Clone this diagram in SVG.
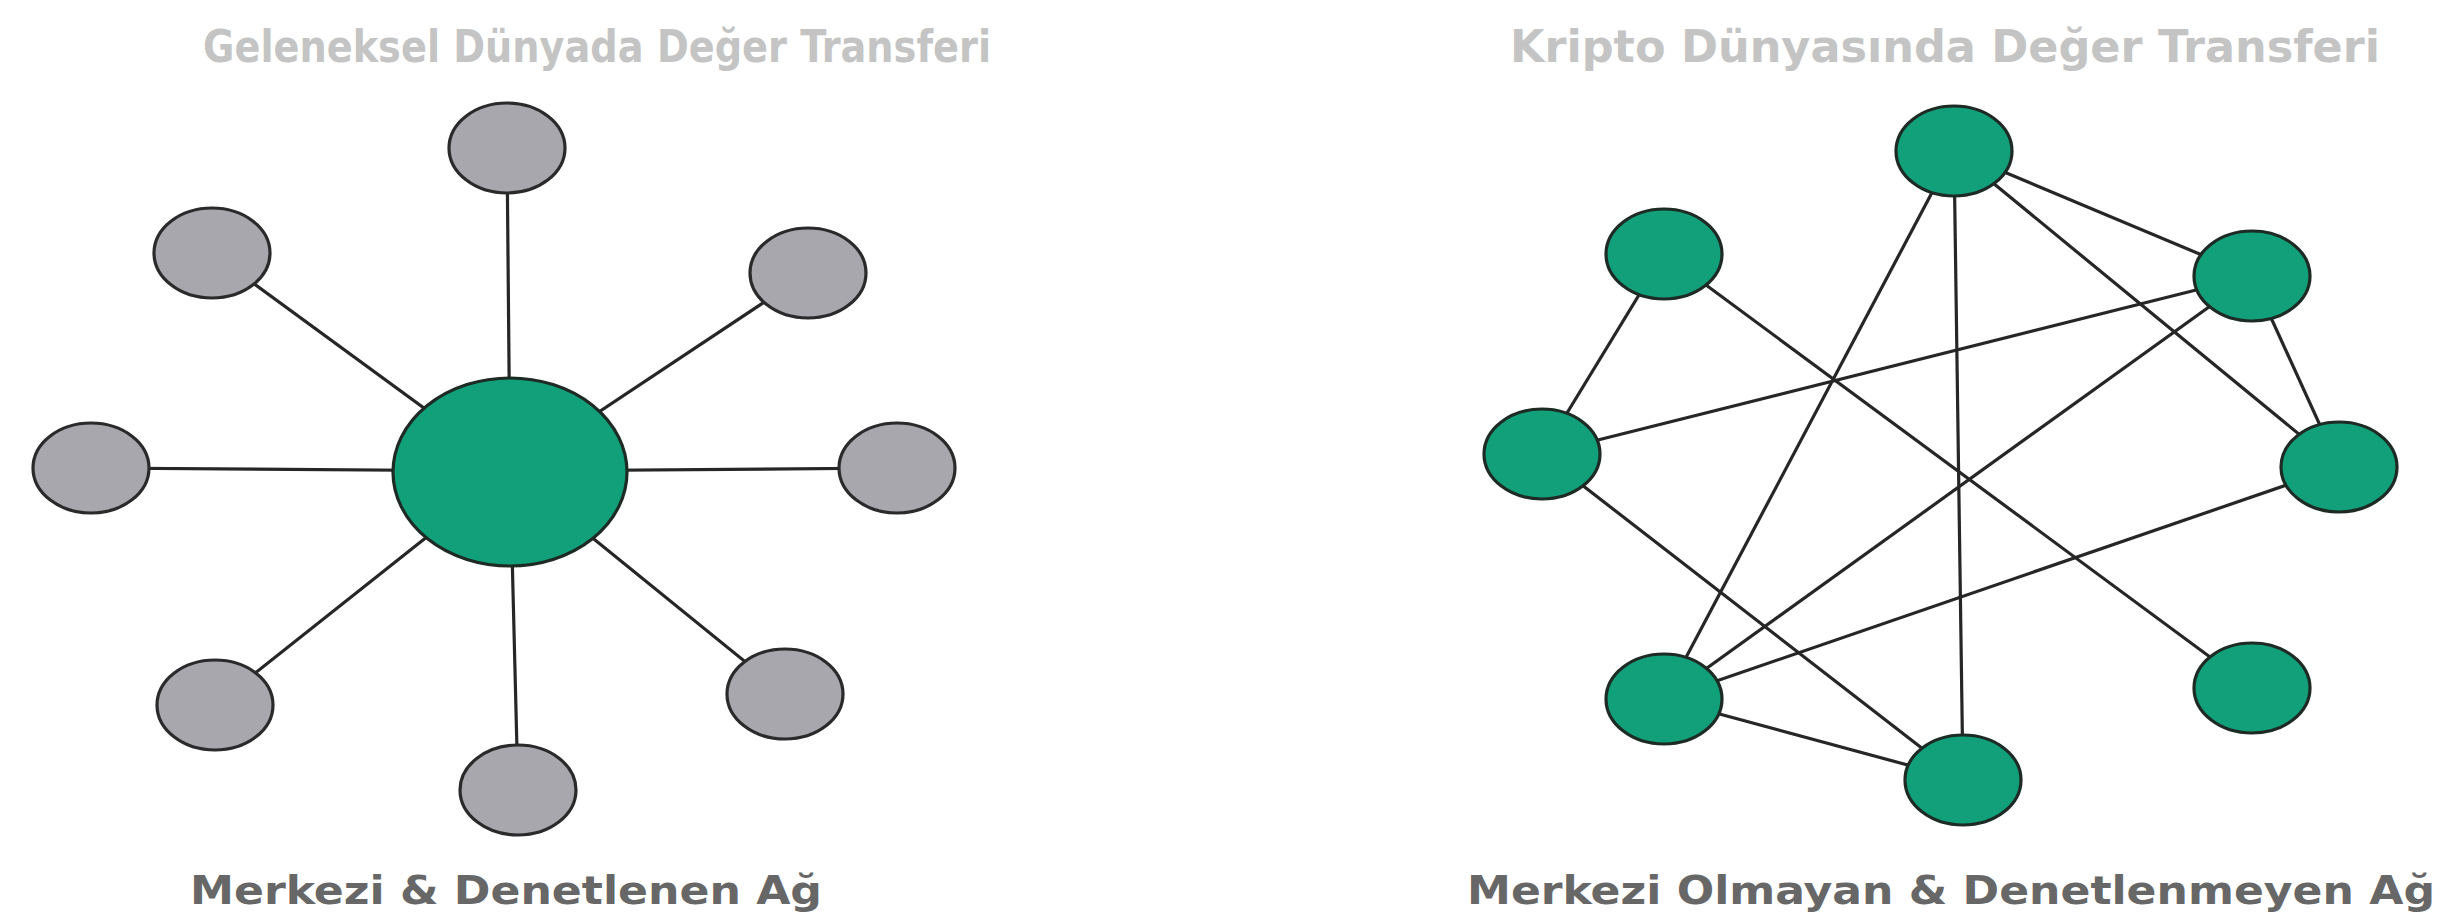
<svg xmlns="http://www.w3.org/2000/svg" width="2447" height="923" viewBox="0 0 2447 923">
<style>
.bg{fill:#ffffff}
.edge{stroke:#262626;stroke-width:3.2;fill:none}
.gray{fill:#a7a7ad;stroke:#2a2a2a;stroke-width:3.2}
.green{fill:#11a07a;stroke:#1e2a24;stroke-width:3.2}
.title{font-family:"DejaVu Sans Condensed","DejaVu Sans","Liberation Sans",sans-serif;font-weight:bold;font-size:44px;fill:#c4c4c4}
.label{font-family:"DejaVu Sans Condensed","DejaVu Sans","Liberation Sans",sans-serif;font-weight:bold;font-size:39px;fill:#676767}
</style>
<rect class="bg" x="0" y="0" width="2447" height="923"/>
<g id="title-left"><text class="title" x="203" y="62" textLength="788" lengthAdjust="spacingAndGlyphs">Geleneksel Dünyada Değer Transferi</text></g>
<g id="title-right"><text class="title" x="1510" y="62" textLength="870" lengthAdjust="spacingAndGlyphs">Kripto Dünyasında Değer Transferi</text></g>
<g id="connectors">
<line class="edge" x1="510" y1="471" x2="507" y2="148"/>
<line class="edge" x1="510" y1="471" x2="212" y2="253"/>
<line class="edge" x1="510" y1="471" x2="808" y2="273"/>
<line class="edge" x1="510" y1="471" x2="91" y2="468"/>
<line class="edge" x1="510" y1="471" x2="897" y2="468"/>
<line class="edge" x1="510" y1="471" x2="215" y2="705"/>
<line class="edge" x1="510" y1="471" x2="785" y2="694"/>
<line class="edge" x1="510" y1="471" x2="518" y2="790"/>
<line class="edge" x1="1954" y1="151" x2="2252" y2="276"/>
<line class="edge" x1="1954" y1="151" x2="1664" y2="699"/>
<line class="edge" x1="1954" y1="151" x2="1963" y2="780"/>
<line class="edge" x1="1954" y1="151" x2="2339" y2="467"/>
<line class="edge" x1="1664" y1="254" x2="1542" y2="454"/>
<line class="edge" x1="1664" y1="254" x2="2252" y2="688"/>
<line class="edge" x1="2252" y1="276" x2="2339" y2="467"/>
<line class="edge" x1="2252" y1="276" x2="1542" y2="454"/>
<line class="edge" x1="2252" y1="276" x2="1664" y2="699"/>
<line class="edge" x1="1542" y1="454" x2="1963" y2="780"/>
<line class="edge" x1="2339" y1="467" x2="1664" y2="699"/>
<line class="edge" x1="1664" y1="699" x2="1963" y2="780"/>
</g>
<g id="hub"><ellipse class="green" cx="510" cy="472" rx="117" ry="94"/></g>
<g id="g-top"><ellipse class="gray" cx="507" cy="148" rx="58" ry="45"/></g>
<g id="g-ul"><ellipse class="gray" cx="212" cy="253" rx="58" ry="45"/></g>
<g id="g-ur"><ellipse class="gray" cx="808" cy="273" rx="58" ry="45"/></g>
<g id="g-l"><ellipse class="gray" cx="91" cy="468" rx="58" ry="45"/></g>
<g id="g-r"><ellipse class="gray" cx="897" cy="468" rx="58" ry="45"/></g>
<g id="g-ll"><ellipse class="gray" cx="215" cy="705" rx="58" ry="45"/></g>
<g id="g-lr"><ellipse class="gray" cx="785" cy="694" rx="58" ry="45"/></g>
<g id="g-b"><ellipse class="gray" cx="518" cy="790" rx="58" ry="45"/></g>
<g id="n-a"><ellipse class="green" cx="1954" cy="151" rx="58" ry="45"/></g>
<g id="n-b"><ellipse class="green" cx="1664" cy="254" rx="58" ry="45"/></g>
<g id="n-c"><ellipse class="green" cx="2252" cy="276" rx="58" ry="45"/></g>
<g id="n-d"><ellipse class="green" cx="1542" cy="454" rx="58" ry="45"/></g>
<g id="n-e"><ellipse class="green" cx="2339" cy="467" rx="58" ry="45"/></g>
<g id="n-f"><ellipse class="green" cx="1664" cy="699" rx="58" ry="45"/></g>
<g id="n-g"><ellipse class="green" cx="2252" cy="688" rx="58" ry="45"/></g>
<g id="n-h"><ellipse class="green" cx="1963" cy="780" rx="58" ry="45"/></g>
<g id="label-left"><text class="label" x="190" y="904" textLength="632" lengthAdjust="spacingAndGlyphs">Merkezi &amp; Denetlenen Ağ</text></g>
<g id="label-right"><text class="label" x="1467" y="904" textLength="968" lengthAdjust="spacingAndGlyphs">Merkezi Olmayan &amp; Denetlenmeyen Ağ</text></g>
</svg>
